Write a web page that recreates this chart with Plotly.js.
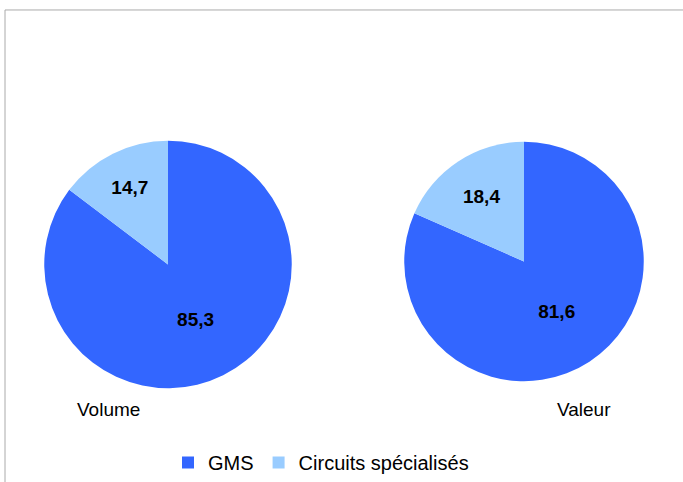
<!DOCTYPE html>
<html>
<head>
<meta charset="utf-8">
<script src="https://cdn.plot.ly/plotly-3.0.1.min.js"></script>
<style>html,body{margin:0;padding:0;background:#fff;}#chart{width:683px;height:482px;}</style>
</head>
<body>
<div id="chart"></div>
<script>
const categories = ["GMS", "Circuits spécialisés"];
const volumeValues = [85.3, 14.7];
const valeurValues = [81.6, 18.4];
const pieNames = ["Volume", "Valeur"];
const colors = ["#3366FF", "#99CCFF"];

const common = {
  type: "pie",
  labels: categories,
  sort: false,
  direction: "clockwise",
  rotation: 0,
  marker: {colors: colors, line: {width: 0}},
  textinfo: "value",
  texttemplate: "%{value:.1f}",
  textposition: "inside",
  insidetextorientation: "horizontal",
  textfont: {family: "Liberation Sans, Arial, sans-serif", size: 19, color: "#000", weight: "bold"},
  hoverinfo: "label+value"
};

const data = [
  Object.assign({}, common, {values: volumeValues, name: pieNames[0],
    domain: {x: [43/683, 293/683], y: [1 - 389/482, 1 - 141/482]}}),
  Object.assign({}, common, {values: valeurValues, name: pieNames[1],
    domain: {x: [404/683, 644/683], y: [1 - 382/482, 1 - 142/482]}})
];

const layout = {
  width: 683, height: 482,
  margin: {l: 0, r: 0, t: 0, b: 0},
  paper_bgcolor: "#fff",
  separators: ", ",
  font: {family: "Liberation Sans, Arial, sans-serif", size: 19, color: "#000"},
  showlegend: true,
  legend: {orientation: "h", x: 0.246, xanchor: "left", y: 1 - 463/482, yanchor: "middle",
    font: {size: 20}, itemwidth: 30, tracegroupgap: 0},
  shapes: [{type: "rect", xref: "paper", yref: "paper", x0: 5/683, x1: 1.05, y0: -0.05, y1: 1 - 10/482,
    line: {color: "#aaaaaa", width: 1}}],
  annotations: [
    {text: pieNames[0], xref: "paper", yref: "paper", x: 108/683, y: 1 - 410/482, showarrow: false,
     xanchor: "center", yanchor: "middle", font: {size: 19}},
    {text: pieNames[1], xref: "paper", yref: "paper", x: 584/683, y: 1 - 410/482, showarrow: false,
     xanchor: "center", yanchor: "middle", font: {size: 19}}
  ]
};

Plotly.newPlot("chart", data, layout, {displayModeBar: false, staticPlot: true});
</script>
</body>
</html>
